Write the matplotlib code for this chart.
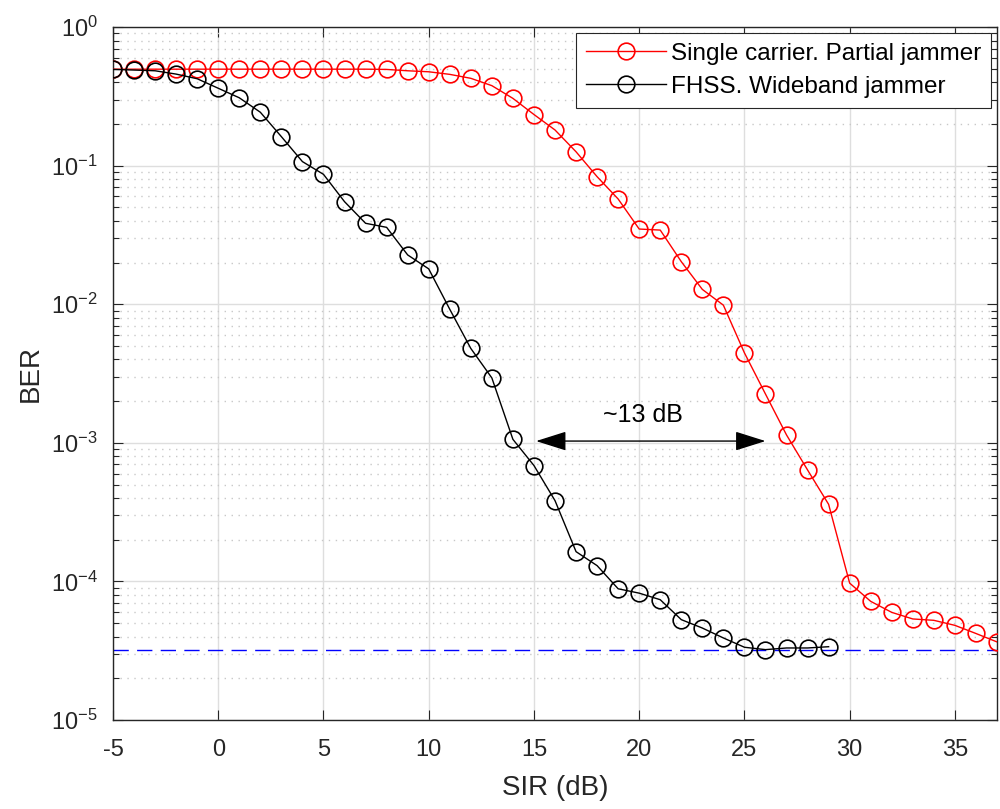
import numpy as np
import matplotlib
matplotlib.use("Agg")
import matplotlib.pyplot as plt
from matplotlib.ticker import LogLocator, NullFormatter, FixedLocator

plt.rcParams['font.family'] = ['Liberation Sans', 'DejaVu Sans']
plt.rcParams['axes.unicode_minus'] = False

# ---- data ----
sir_sc = list(range(-5, 38))
ber_sc = [0.497, 0.497, 0.497, 0.497, 0.497, 0.497, 0.497, 0.497, 0.497, 0.497,
          0.497, 0.497, 0.497, 0.495, 0.484, 0.476, 0.456, 0.427, 0.378, 0.306,
          0.234, 0.181, 0.126, 0.0833, 0.0575, 0.0349, 0.0343, 0.0203, 0.0128, 0.00985,
          0.00446, 0.00225, 0.00114, 0.000637, 0.00036, 9.72e-5, 7.18e-5, 5.98e-5, 5.36e-5,
          5.24e-5, 4.82e-5, 4.21e-5, 3.66e-5]

sir_fh = list(range(-5, 30))
ber_fh = [0.495, 0.49, 0.484, 0.458, 0.424, 0.362, 0.309, 0.243, 0.162, 0.107,
          0.0866, 0.055, 0.0384, 0.0359, 0.0227, 0.018, 0.0092, 0.0048, 0.00294, 0.00106,
          0.000686, 0.000383, 0.000164, 0.00013, 8.85e-5, 8.23e-5, 7.38e-5, 5.3e-5, 4.61e-5,
          3.91e-5, 3.35e-5, 3.22e-5, 3.31e-5, 3.31e-5, 3.38e-5]

floor_ber = 3.22e-5
labels = ['Single carrier. Partial jammer', 'FHSS. Wideband jammer']
arrow_x = [15.1, 26.0]
arrow_y = 1.03e-3
annot_text = '~13 dB'
annot_pos = (20.2, 1.6e-3)

xticks = [-5, 0, 5, 10, 15, 20, 25, 30, 35]

# ---- figure ----
fig = plt.figure(figsize=(10, 8.09), dpi=100)
ax = fig.add_axes([0.113, 0.11, 0.884, 0.8565])

ax.semilogy(sir_sc, ber_sc, '-o', color='red', lw=1.0, ms=12, mfc='none', mew=1.2,
            label=labels[0], zorder=3)
ax.semilogy(sir_fh, ber_fh, '-o', color='black', lw=1.0, ms=12, mfc='none', mew=1.2,
            label=labels[1], zorder=3)
ax.axhline(floor_ber, color='blue', lw=1.0, ls=(0, (11, 6)), zorder=2)

ax.set_xlim(-5, 37)
ax.set_ylim(1e-5, 1)
ax.xaxis.set_major_locator(FixedLocator(xticks))
ax.yaxis.set_major_locator(LogLocator(base=10, numticks=10))
ax.yaxis.set_minor_locator(LogLocator(base=10, subs=np.arange(2, 10), numticks=20))
ax.yaxis.set_minor_formatter(NullFormatter())

gc = '#262626'
ax.grid(True, which='major', color='#dedede', lw=1.0, ls='-', zorder=0)
ax.grid(True, which='minor', axis='y', color='#c8c8c8', lw=1.0, ls=(0, (1, 4)), zorder=0)
ax.set_axisbelow(True)

ax.tick_params(axis='both', which='both', direction='in', top=True, right=True,
               colors=gc, labelcolor=gc, labelsize=17)
ax.tick_params(which='major', length=7, width=0.8)
ax.tick_params(which='minor', length=4, width=0.8)
ax.tick_params(axis='x', which='major', pad=14)
ax.tick_params(axis='y', which='major', pad=11)
for s in ax.spines.values():
    s.set_color(gc)
    s.set_linewidth(1.0)

ax.set_xlabel('SIR (dB)', fontsize=20, color=gc, labelpad=10)
ax.set_ylabel('BER', fontsize=20, color=gc, labelpad=5)

ax.annotate('', xy=(arrow_x[0], arrow_y), xytext=(arrow_x[1], arrow_y),
            arrowprops=dict(arrowstyle='<|-|>,head_length=1.9,head_width=0.6',
                            color='black', lw=1.0, shrinkA=0, shrinkB=0), zorder=4)
ax.text(annot_pos[0], annot_pos[1], annot_text, fontsize=18, ha='center', va='center',
        color='black', zorder=4)

leg = ax.legend(loc='upper right', fontsize=17.5, frameon=True, fancybox=False,
                edgecolor=gc, framealpha=1, borderpad=0.4, handlelength=3.3,
                labelspacing=0.45, borderaxespad=0.25, handletextpad=0.2)
leg.get_frame().set_linewidth(0.8)

fig.savefig('out.png', dpi=100)
